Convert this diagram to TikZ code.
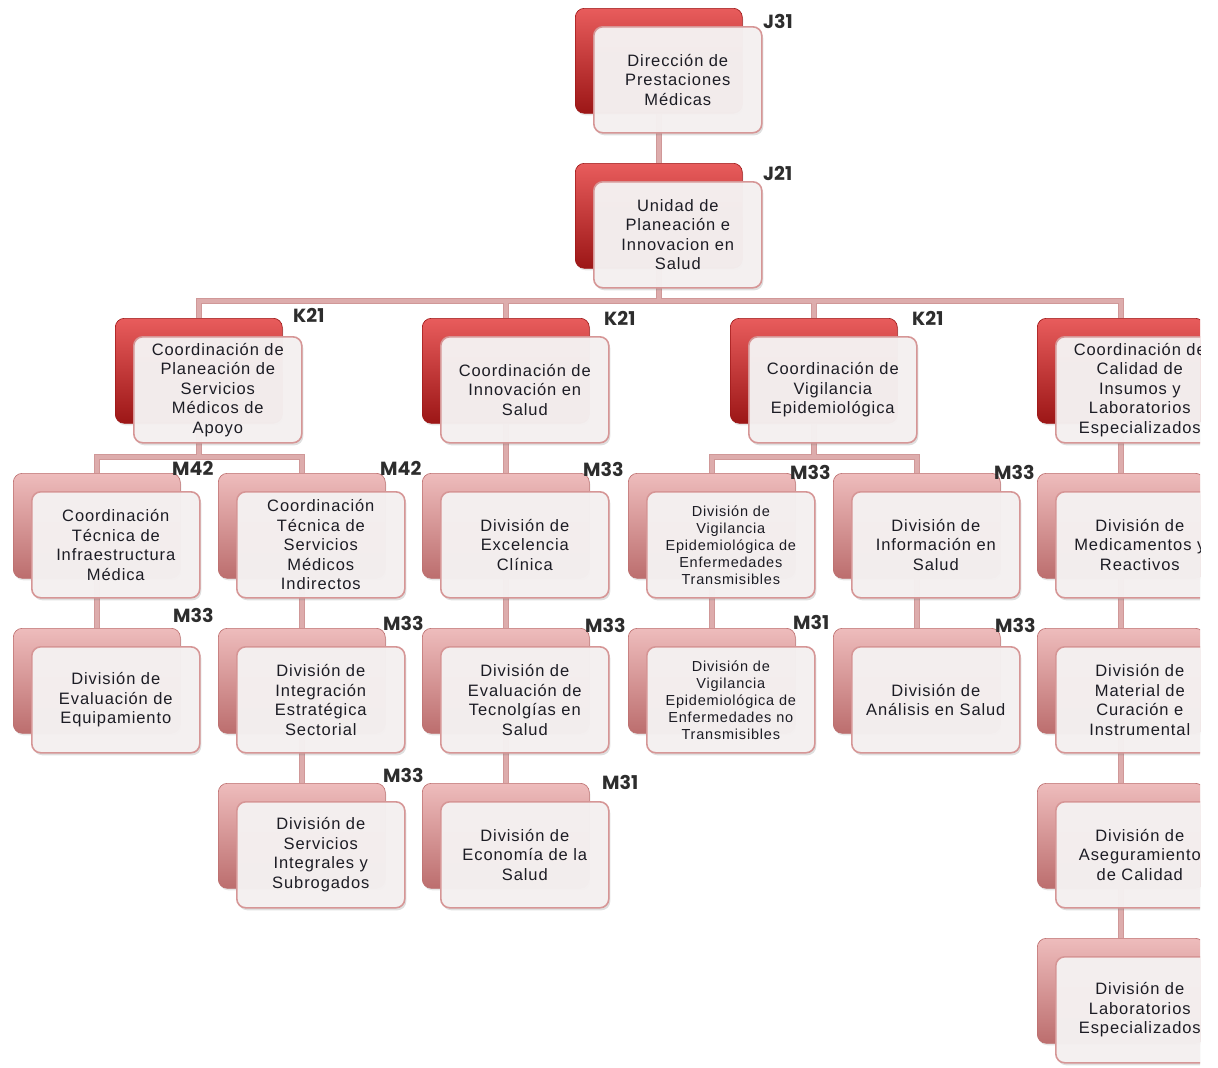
\documentclass[tikz,border=0pt]{standalone}
\usepackage{fontspec}
\setmainfont{Liberation Sans}[LetterSpace=5.5]
\newfontfamily\lblfont{Poppins}
\usetikzlibrary{shadows}
\pgfdeclarelayer{bg}
\pgfsetlayers{bg,main}

\definecolor{connedge}{RGB}{208,152,152}
\definecolor{conninner}{RGB}{221,172,172}
\definecolor{redtop}{RGB}{232,92,92}
\definecolor{redmid}{RGB}{206,46,46}
\definecolor{redbot}{RGB}{156,22,22}
\definecolor{pinktop}{RGB}{238,188,188}
\definecolor{pinkmid}{RGB}{218,142,142}
\definecolor{pinkbot}{RGB}{188,110,110}
\definecolor{frontfill}{RGB}{245,241,241}
\definecolor{frontline}{RGB}{214,150,150}
\definecolor{txt}{RGB}{28,28,36}
\definecolor{lbl}{RGB}{45,45,45}

\tikzset{
  backbase/.style={rounded corners=9pt, minimum width=167pt, minimum height=105pt,
    inner sep=0pt, anchor=north west, line width=0.6pt,
    drop shadow={opacity=0.2, shadow xshift=1pt, shadow yshift=-2pt}},
  backred/.style={backbase, top color=redtop, middle color=redmid, bottom color=redbot, draw=redbot},
  backpink/.style={backbase, top color=pinktop, middle color=pinkmid, bottom color=pinkbot, draw=pinkbot},
  front/.style={rounded corners=9pt, minimum width=168pt, minimum height=106pt,
    inner sep=0pt, anchor=north west, fill=frontfill, fill opacity=0.97, text opacity=1,
    draw=frontline, line width=1.6pt, align=center, text=txt,
    font=\fontsize{16.5}{19.5}\selectfont,
    drop shadow={opacity=0.25, shadow xshift=1.5pt, shadow yshift=-2.5pt}},
  smalltext/.style={font=\fontsize{14.5}{17}\selectfont},
  lab/.style={font=\lblfont\bfseries\fontsize{19}{19}\selectfont, text=lbl, inner sep=0pt, anchor=west},
  edgeconn/.style={draw=connedge, line width=6pt, line cap=butt, line join=miter},
  innerconn/.style={draw=conninner, line width=4pt, line cap=butt, line join=miter}
}

\newcommand\orgunit[6][]{%
  \node[#5] (#2b) at (#3,#4) {};
  \node[front,#1] (#2f) at ([shift={(18,18)}]#2b.north west) {#6};
}

\newcommand\connall[1]{%
  \draw[#1] (j1b.south) -- (j2b.north);
  \draw[#1] (j2b.south) -- (j2b.south |- busK);
  \draw[#1] (k1b.north) -- (k1b.north |- busK) -- (k4b.north |- busK) -- (k4b.north);
  \draw[#1] (k2b.north) -- (k2b.north |- busK);
  \draw[#1] (k3b.north) -- (k3b.north |- busK);
  \draw[#1] (k1b.south) -- (k1b.south |- busM);
  \draw[#1] (a1b.north) -- (a1b.north |- busM) -- (b1b.north |- busM) -- (b1b.north);
  \draw[#1] (k3b.south) -- (k3b.south |- busM);
  \draw[#1] (d1b.north) -- (d1b.north |- busM) -- (e1b.north |- busM) -- (e1b.north);
  \draw[#1] (k2b.south) -- (c1b.north);
  \draw[#1] (k4b.south) -- (g1b.north);
  \draw[#1] (a1b.south) -- (a2b.north);
  \draw[#1] (b1b.south) -- (b2b.north);
  \draw[#1] (b2b.south) -- (b3b.north);
  \draw[#1] (c1b.south) -- (c2b.north);
  \draw[#1] (c2b.south) -- (c3b.north);
  \draw[#1] (d1b.south) -- (d2b.north);
  \draw[#1] (e1b.south) -- (e2b.north);
  \draw[#1] (g1b.south) -- (g2b.north);
  \draw[#1] (g2b.south) -- (g3b.north);
  \draw[#1] (g3b.south) -- (g4b.north);
}

\begin{document}
\begin{tikzpicture}[x=1pt, y=-1pt]
\useasboundingbox (0,0) rectangle (1218,1068);
\coordinate (busK) at (0,301);
\coordinate (busM) at (0,457);

\begin{scope}
\clip (0,0) rectangle (1200,1068);

% Level J
\orgunit{j1}{575}{8}{backred}{Dirección de\\Prestaciones\\Médicas}
\orgunit{j2}{575}{163}{backred}{Unidad de\\Planeación e\\Innovacion en\\Salud}

% Level K
\orgunit{k1}{115}{318}{backred}{Coordinación de\\Planeación de\\Servicios\\Médicos de\\Apoyo}
\orgunit{k2}{422}{318}{backred}{Coordinación de\\Innovación en\\Salud}
\orgunit{k3}{730}{318}{backred}{Coordinación de\\Vigilancia\\Epidemiológica}
\orgunit{k4}{1037}{318}{backred}{Coordinación de\\Calidad de\\Insumos y\\Laboratorios\\Especializados}

% Level M, row 1
\orgunit{a1}{13}{473}{backpink}{Coordinación\\Técnica de\\Infraestructura\\Médica}
\orgunit{b1}{218}{473}{backpink}{Coordinación\\Técnica de\\Servicios\\Médicos\\Indirectos}
\orgunit{c1}{422}{473}{backpink}{División de\\Excelencia\\Clínica}
\orgunit[smalltext]{d1}{628}{473}{backpink}{División de\\Vigilancia\\Epidemiológica de\\Enfermedades\\Transmisibles}
\orgunit{e1}{833}{473}{backpink}{División de\\Información en\\Salud}
\orgunit{g1}{1037}{473}{backpink}{División de\\Medicamentos y\\Reactivos}

% row 2
\orgunit{a2}{13}{628}{backpink}{División de\\Evaluación de\\Equipamiento}
\orgunit{b2}{218}{628}{backpink}{División de\\Integración\\Estratégica\\Sectorial}
\orgunit{c2}{422}{628}{backpink}{División de\\Evaluación de\\Tecnolgías en\\Salud}
\orgunit[smalltext]{d2}{628}{628}{backpink}{División de\\Vigilancia\\Epidemiológica de\\Enfermedades no\\Transmisibles}
\orgunit{e2}{833}{628}{backpink}{División de\\Análisis en Salud}
\orgunit{g2}{1037}{628}{backpink}{División de\\Material de\\Curación e\\Instrumental}

% row 3
\orgunit{b3}{218}{783}{backpink}{División de\\Servicios\\Integrales y\\Subrogados}
\orgunit{c3}{422}{783}{backpink}{División de\\Economía de la\\Salud}
\orgunit{g3}{1037}{783}{backpink}{División de\\Aseguramiento\\de Calidad}

% row 4
\orgunit{g4}{1037}{938}{backpink}{División de\\Laboratorios\\Especializados}

% labels
\node[lab] (lj1) at (763,21) {J31};
\node[lab] (lj2) at (763,173) {J21};
\node[lab] (lk1) at (293,315) {K21};
\node[lab] (lk2) at (604,318) {K21};
\node[lab] (lk3) at (912,318) {K21};
\node[lab] (la1) at (172,468) {M42};
\node[lab] (lb1) at (380,468) {M42};
\node[lab] (lc1) at (583,469) {M33};
\node[lab] (ld1) at (790,472) {M33};
\node[lab] (le1) at (994,472) {M33};
\node[lab] (la2) at (173,615) {M33};
\node[lab] (lb2) at (383,623) {M33};
\node[lab] (lc2) at (585,625) {M33};
\node[lab] (ld2) at (793,622) {M31};
\node[lab] (le2) at (995,625) {M33};
\node[lab] (lb3) at (383,775) {M33};
\node[lab] (lc3) at (602,782) {M31};
\end{scope}

\begin{pgfonlayer}{bg}
\connall{edgeconn}
\connall{innerconn}
\end{pgfonlayer}
\end{tikzpicture}
\end{document}
